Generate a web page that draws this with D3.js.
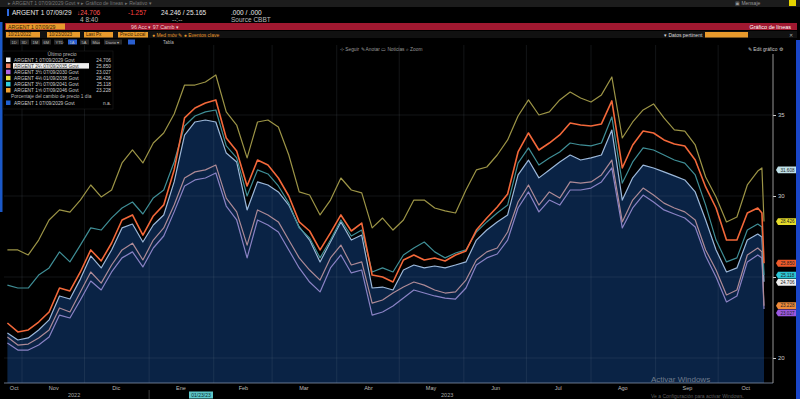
<!DOCTYPE html>
<html><head><meta charset="utf-8">
<script src="https://cdn.jsdelivr.net/npm/d3@7"></script>
<style>html,body{margin:0;padding:0;background:#000;overflow:hidden}
text{font-family:'Liberation Sans',Arial,sans-serif}</style>
</head><body>
<svg id="c" width="800" height="399"></svg>
<script>
// ---------- DATA ----------
const startDate = "2022-10-25";   // first observation, then every 5 days
const stepDays = 5;
const extraDates = ["2023-10-22", "2023-10-23"];

const seriesNames = [
  "ARGENT 1 07/09/2029 Govt", "ARGENT 2¼ 07/09/2035 Govt", "ARGENT 3½ 07/09/2030 Govt",
  "ARGENT 4⅛ 01/09/2038 Govt", "ARGENT 3½ 07/09/2041 Govt", "ARGENT 1⅝ 07/09/2046 Govt"
];
const lastPrices = ["24.706", "25.850", "23.027", "28.426", "25.118", "23.228"];

const yellow2038 = [26.67,26.67,26.36,27.28,28.52,29.14,29.01,29.75,30.68,29.94,
  30.37,32.04,32.84,32.04,33.27,33.89,35.06,36.85,36.85,37.04,
  37.47,35.19,34.38,32.35,34.57,34.69,34.26,32.53,30.25,30.06,
  28.83,29.75,31.11,30.37,30.19,28.03,28.64,27.90,28.52,29.75,
  29.75,29.26,29.08,28.95,30.37,31.61,31.79,32.53,33.46,34.94,
  35.93,35.00,35.19,35.93,36.42,36.05,35.80,36.24,37.35,33.58,
  34.57,35.31,35.68,34.82,34.08,34.01,33.15,31.17,29.94,28.40,
  28.70,30.68,31.54,31.73,28.424];
const salmon2035 = [22.16,21.61,21.73,22.22,22.84,24.32,24.14,25.31,26.67,25.99,
  27.10,28.52,28.83,27.59,28.77,29.45,31.61,34.82,35.43,35.74,
  35.93,33.58,32.78,30.62,32.22,31.91,31.11,30.00,28.40,27.84,
  26.67,27.72,28.83,27.84,28.33,25.12,25.00,24.69,26.05,26.36,
  26.05,26.17,25.99,26.36,26.61,27.90,28.64,29.32,30.12,32.72,
  33.89,32.84,33.27,33.77,34.51,34.38,34.32,34.45,35.87,31.73,
  33.15,34.01,33.89,33.46,33.21,33.09,32.22,30.56,29.26,27.28,
  27.28,28.95,29.26,28.95,25.85];
const cyan2041 = [24.50,24.32,24.32,25.12,25.56,26.55,25.93,26.97,28.03,27.90,
  28.65,29.26,29.63,28.89,29.88,30.37,32.10,34.32,34.94,35.19,
  35.31,33.09,32.35,30.00,31.61,31.36,30.62,29.56,28.03,27.41,
  26.18,27.28,28.52,27.53,27.90,25.31,25.56,25.31,26.36,26.79,
  27.16,26.55,26.18,26.48,26.67,27.78,28.40,28.95,29.44,32.03,
  32.97,31.91,32.35,32.72,33.27,33.15,33.09,33.27,34.88,30.80,
  32.10,32.97,32.84,32.53,32.22,32.03,31.30,29.44,27.28,25.93,
  26.18,27.90,28.27,28.09,25.118];
const white2029 = [21.54,21.11,21.24,21.73,22.35,23.83,23.64,24.87,26.30,25.56,
  26.67,28.03,28.27,27.16,28.21,28.83,30.87,33.76,34.57,34.69,
  34.57,32.65,32.10,29.14,30.87,30.68,30.25,29.44,28.09,27.28,
  25.93,27.16,28.40,27.28,27.59,24.32,24.38,24.20,25.43,25.74,
  25.56,25.68,25.56,25.74,25.93,27.28,27.90,28.40,28.83,31.30,
  32.22,31.12,31.61,32.10,32.53,32.22,32.35,32.53,34.07,29.75,
  31.12,31.91,31.73,31.49,31.24,30.99,30.25,28.52,26.67,25.31,
  25.56,27.28,27.65,27.47,24.706];
const orange2046 = [21.30,20.80,20.86,21.24,21.73,23.09,22.84,24.08,25.31,24.62,
  25.74,26.67,27.09,26.05,27.28,28.03,29.44,31.11,31.49,31.61,
  31.91,29.87,29.02,26.97,29.14,28.83,28.40,27.28,26.18,25.43,
  24.81,26.18,26.97,25.74,25.93,23.39,23.58,24.01,24.38,24.69,
  24.50,24.20,24.01,24.08,24.81,26.05,26.55,26.79,27.78,29.63,
  30.68,29.44,30.25,29.87,30.87,30.80,30.87,31.30,32.22,28.40,
  29.75,30.49,30.06,29.56,29.26,29.02,28.52,26.67,25.43,23.89,
  24.20,26.36,26.79,26.55,23.228];
const purple2030 = [20.92,20.49,20.49,20.80,21.30,22.65,22.47,23.58,24.75,24.20,
  25.31,26.18,26.55,25.62,26.79,27.53,29.02,30.62,30.99,31.11,
  31.42,29.38,28.52,26.18,28.52,28.21,27.78,26.67,25.56,24.69,
  24.08,25.56,26.36,25.25,25.43,22.65,22.84,23.21,23.70,24.20,
  24.01,23.83,23.70,23.64,24.32,25.74,26.18,26.42,27.28,29.26,
  30.25,29.02,29.75,29.44,30.37,30.37,30.49,30.87,31.73,28.03,
  29.26,30.06,29.63,29.14,28.89,28.64,28.09,26.30,25.00,23.46,
  23.83,25.93,26.36,26.18,23.027];

const monthLabels = ["Oct","Nov","Dic","Ene","Feb","Mar","Abr","May","Jun","Jul","Ago","Sep","Oct"];
const monthLabelDates = ["2022-10-28","2022-11-16","2022-12-16","2023-01-16","2023-02-15","2023-03-16",
  "2023-04-16","2023-05-16","2023-06-16","2023-07-16","2023-08-16","2023-09-16","2023-10-14"];
const gridDates = ["2022-11-01","2022-12-01","2023-01-01","2023-02-01","2023-03-01","2023-04-01",
  "2023-05-01","2023-06-01","2023-07-01","2023-08-01","2023-09-01","2023-10-01"];
const yearLabels = ["2022","2023"];
const yearLabelDates = ["2022-11-26","2023-05-24"];
const yTicks = [20,25,30,35];
const markerValue = 31.61, markerText = "31.608";

// ---------- SETUP ----------
const parse = d3.timeParse("%Y-%m-%d");
const d0 = parse(startDate);
const dates = d3.range(yellow2038.length - extraDates.length).map(i => d3.timeDay.offset(d0, i*stepDays))
  .concat(extraDates.map(parse));

const svg = d3.select("#c");
const W = 800, H = 399;
const plot = {left: 4, right: 770, top: 45, bottom: 383};

const x = d3.scaleTime().domain([parse("2022-10-25"), parse("2023-10-23")]).range([7.4, 764]);
const y = d3.scaleLinear().domain([20, 35]).range([358, 115]);

svg.append("rect").attr("width", W).attr("height", H).attr("fill", "#000");

// ---------- HEADER (terminal chrome) ----------
const hdr = svg.append("g");
hdr.append("rect").attr("x",0).attr("y",0).attr("width",W).attr("height",7).attr("fill","#1c1c1c");
hdr.append("text").attr("x",8).attr("y",5).attr("fill","#777").attr("font-size",5)
  .text("▸  ARGENT 1 07/09/2029 Govt  ▾   ▸   Gráfico de líneas  ▸  Relativo ▾");
hdr.append("text").attr("x",735).attr("y",5).attr("fill","#999").attr("font-size",5).text("▣ Mensaje");
hdr.append("rect").attr("x",789).attr("y",0).attr("width",7).attr("height",6).attr("fill","#e5d400");

hdr.append("rect").attr("x",7).attr("y",9).attr("width",2).attr("height",7).attr("fill","#2f6be0");
const t1 = [
  {x:12, y:15, t:"ARGENT 1 07/09/29", c:"#e8e8e8"},
  {x:77, y:15, t:"↓24.706", c:"#ff5555"},
  {x:128, y:15, t:"-1.257", c:"#ff4040"},
  {x:161, y:15, t:"24.246 / 25.165", c:"#e8e8e8"},
  {x:231, y:15, t:".000 / .000", c:"#e8e8e8"},
  {x:80, y:21.5, t:"4  8:40", c:"#bbb"},
  {x:172, y:21.5, t:"--:--", c:"#bbb"},
  {x:231, y:21.5, t:"Source CBBT", c:"#bbb"}
];
hdr.selectAll("text.t1").data(t1).join("text").attr("class","t1")
  .attr("x",d=>d.x).attr("y",d=>d.y).attr("fill",d=>d.c).attr("font-size",6.5).text(d=>d.t);

hdr.append("rect").attr("x",5).attr("y",23).attr("width",792).attr("height",7).attr("fill","#a01830");
hdr.append("rect").attr("x",6).attr("y",23.5).attr("width",59).attr("height",6).attr("fill","#e89a2c");
hdr.append("text").attr("x",8).attr("y",28.6).attr("fill","#3a1a00").attr("font-size",5.2).text("ARGENT 1 07/09/29");
hdr.append("text").attr("x",131).attr("y",28.8).attr("fill","#f0d0d0").attr("font-size",5.3).text("96 Acc ▾    97 Camb ▾");
hdr.append("text").attr("x",791).attr("y",28.8).attr("text-anchor","end").attr("fill","#fff").attr("font-size",5.5).text("Gráfico de líneas");

hdr.append("rect").attr("x",5).attr("y",31).attr("width",792).attr("height",7).attr("fill","#111");
const boxes = [
  {x:6, w:34, t:"10/21/2022"}, {x:47, w:33, t:"10/23/2023"},
  {x:84, w:29, t:"Last Px"}, {x:118, w:30, t:"Precio Local"}
];
hdr.selectAll("rect.ob").data(boxes).join("rect").attr("class","ob")
  .attr("x",d=>d.x).attr("y",32).attr("width",d=>d.w).attr("height",5.5).attr("fill","#e89a2c");
hdr.selectAll("text.ob").data(boxes).join("text").attr("class","ob")
  .attr("x",d=>d.x+2).attr("y",36.4).attr("fill","#3a1a00").attr("font-size",4.6).text(d=>d.t);
hdr.append("text").attr("x",152).attr("y",36.6).attr("fill","#e89a2c").attr("font-size",5)
  .text("●  Med móv ✎    ●  Eventos clave");
hdr.append("text").attr("x",664).attr("y",36.6).attr("fill","#ddd").attr("font-size",5).text("▾ Datos pertinent");
hdr.append("rect").attr("x",705).attr("y",32).attr("width",43).attr("height",5.5).attr("fill","#e89a2c");
hdr.append("text").attr("x",789).attr("y",36.6).attr("fill","#aaa").attr("font-size",5).text("✕");

const tabs = ["1D","3D","1M","6M","YTD","1A","5A","Máx","Diario ▾"];
const tabX = [10,20,31,42,54,68,80,91,104];
hdr.selectAll("rect.tab").data(tabs).join("rect").attr("class","tab")
  .attr("x",(d,i)=>tabX[i]).attr("y",39.5).attr("width",(d,i)=>d.length>4?18:9).attr("height",5)
  .attr("fill",(d,i)=>d==="1A"?"#2a5fd0":"#262626");
hdr.selectAll("text.tab").data(tabs).join("text").attr("class","tab")
  .attr("x",(d,i)=>tabX[i]+1.5).attr("y",43.6).attr("fill","#bbb").attr("font-size",4).text(d=>d);
hdr.append("rect").attr("x",128).attr("y",39.5).attr("width",7).attr("height",5).attr("fill","#2a5fd0");
hdr.append("text").attr("x",163).attr("y",43.6).attr("fill","#bbb").attr("font-size",4.5).text("Tabla");

// ---------- PLOT ----------
const g = svg.append("g");
g.append("rect").attr("x",plot.left).attr("y",plot.top).attr("width",plot.right-plot.left)
  .attr("height",plot.bottom-plot.top).attr("fill","#000");

const pts = arr => arr.map((v,i)=>({d:dates[i], v}));

// mountain area
g.append("path").datum(pts(white2029))
  .attr("d", d3.area().x(d=>x(d.d)).y0(plot.bottom).y1(d=>y(d.v)))
  .attr("fill","#0a2345");

// grid
g.selectAll("line.vg").data(gridDates.map(parse)).join("line").attr("class","vg")
  .attr("x1",d=>x(d)).attr("x2",d=>x(d)).attr("y1",plot.top).attr("y2",plot.bottom)
  .attr("stroke","rgba(140,150,170,0.2)").attr("stroke-width",0.7);
g.selectAll("line.hg").data(yTicks).join("line").attr("class","hg")
  .attr("x1",plot.left).attr("x2",773).attr("y1",d=>y(d)).attr("y2",d=>y(d))
  .attr("stroke","rgba(140,150,170,0.2)").attr("stroke-width",0.7);

const line = d3.line().x(d=>x(d.d)).y(d=>y(d.v));
const lineDefs = [
  {data: purple2030, c:"#8a82c4", w:1.2},
  {data: orange2046, c:"#ad8a96", w:1.2},
  {data: white2029, c:"#9cb8da", w:1.2},
  {data: cyan2041, c:"#3f8e96", w:1.2},
  {data: yellow2038, c:"#9c9446", w:1.2},
  {data: salmon2035, c:"#f3683a", w:1.6}
];
g.selectAll("path.ln").data(lineDefs).join("path").attr("class","ln")
  .attr("d",d=>line(pts(d.data))).attr("fill","none")
  .attr("stroke",d=>d.c).attr("stroke-width",d=>d.w).attr("stroke-linejoin","round");

// bottom edge of plot
g.append("line").attr("x1",plot.left).attr("x2",773).attr("y1",plot.bottom).attr("y2",plot.bottom)
  .attr("stroke","#8090a8").attr("stroke-width",0.8);

// chart toolbar text
g.append("text").attr("x",340).attr("y",51).attr("fill","#999").attr("font-size",4.8)
  .text("⊹ Seguir      ✎ Anotar      ▭ Noticias      ⌕ Zoom");
g.append("text").attr("x",748).attr("y",51).attr("fill","#ccc").attr("font-size",4.8).text("✎ Edit gráfico  ⚙");

// ---------- RIGHT VALUE TAGS (positions) ----------
const tagDefs = [
  {v: markerValue, t: markerText, c:"#bfe0e8"},
  {v: yellow2038[yellow2038.length-1], t: lastPrices[3], c:"#e6dc2a"},
  {v: salmon2035[salmon2035.length-1], t: lastPrices[1], c:"#ee5a2a"},
  {v: cyan2041[cyan2041.length-1], t: lastPrices[4], c:"#2cc6d6"},
  {v: white2029[white2029.length-1], t: lastPrices[0], c:"#eeeeee"},
  {v: orange2046[orange2046.length-1], t: lastPrices[5], c:"#ee8a3a"},
  {v: purple2030[purple2030.length-1], t: lastPrices[2], c:"#9a58e0"}
];
let prev = -1e9;
tagDefs.forEach(d => { d.py = Math.max(y(d.v), prev + 7.2); prev = d.py; });

// ---------- AXES ----------
// tick labels hidden behind a value tag are not shown (as in the terminal)
const covered = v => tagDefs.some(t => Math.abs(t.py - y(v)) < 6);
const yAxis = d3.axisRight(y).tickValues(yTicks).tickSize(3).tickFormat(v => covered(v) ? "" : d3.format("d")(v));
const ya = svg.append("g").attr("transform","translate(773,0)").call(yAxis);
ya.select(".domain").remove();
ya.selectAll("line").attr("stroke","#ccc");
ya.selectAll("text").attr("fill","#ccc").attr("font-size",6).attr("x",5);
svg.append("line").attr("x1",773).attr("x2",773).attr("y1",54).attr("y2",plot.bottom)
  .attr("stroke","#bbb").attr("stroke-width",0.8);

const xAxis = d3.axisBottom(x).tickValues(monthLabelDates.map(parse)).tickSize(0)
  .tickFormat((d,i)=>monthLabels[i]);
const xa = svg.append("g").attr("transform",`translate(0,${plot.bottom})`).call(xAxis);
xa.select(".domain").remove();
xa.selectAll("text").attr("fill","#bbb").attr("font-size",5.5).attr("dy","0.8em");

svg.selectAll("text.yr").data(yearLabels).join("text").attr("class","yr")
  .attr("x",(d,i)=>x(parse(yearLabelDates[i]))).attr("y",397).attr("text-anchor","middle")
  .attr("fill","#aaa").attr("font-size",5.5).text(d=>d);
svg.append("line").attr("x1",x(parse("2023-01-01"))).attr("x2",x(parse("2023-01-01")))
  .attr("y1",390).attr("y2",399).attr("stroke","#555").attr("stroke-width",0.7);
svg.append("rect").attr("x",189).attr("y",391.5).attr("width",24).attr("height",7).attr("fill","#5cc6c8");
svg.append("text").attr("x",201).attr("y",397).attr("text-anchor","middle").attr("fill","#0a2a30")
  .attr("font-size",5).text("01/23/23");

// ---------- RIGHT VALUE TAGS (draw) ----------
const tags = svg.selectAll("g.tag").data(tagDefs).join("g").attr("class","tag")
  .attr("transform",d=>`translate(776,${d.py})`);
tags.append("path").attr("d","M0,0 L2,-3.4 L21,-3.4 L21,3.4 L2,3.4 Z").attr("fill",d=>d.c);
tags.append("text").attr("x",11.5).attr("y",1.7).attr("text-anchor","middle").attr("fill","#222")
  .attr("font-size",4.6).text(d=>d.t);

// side strips
svg.append("rect").attr("x",796).attr("y",40).attr("width",4).attr("height",359).attr("fill","#1a46c8");
svg.append("rect").attr("x",0).attr("y",22).attr("width",2.5).attr("height",190).attr("fill","#1a58c8");

// ---------- LEGEND ----------
const lg = svg.append("g");
lg.append("rect").attr("x",3).attr("y",51).attr("width",110).attr("height",58).attr("fill","rgba(0,0,0,0.9)")
  .attr("stroke","#222").attr("stroke-width",0.5);
lg.append("text").attr("x",62).attr("y",56).attr("text-anchor","middle").attr("fill","#bbb").attr("font-size",5).text("Último precio");
const legColors = ["#f4f4f4","#f08060","#b064e0","#e8e040","#30d0e0","#f0a030"];
const legRows = seriesNames.map((n,i)=>({n, v:lastPrices[i], c:legColors[i], yy:61.5 + i*6.1}));
legRows.forEach((r,i)=>{
  lg.append("rect").attr("x",6).attr("y",r.yy-4).attr("width",4.5).attr("height",4.5).attr("fill",r.c);
  if (i===1) lg.append("rect").attr("x",13).attr("y",r.yy-4.5).attr("width",76).attr("height",5.5).attr("fill","#eee");
  lg.append("text").attr("x",14).attr("y",r.yy).attr("fill",i===1?"#333":"#ccc").attr("font-size",4.8).text(r.n);
  lg.append("text").attr("x",111).attr("y",r.yy).attr("text-anchor","end").attr("fill","#ccc").attr("font-size",4.8).text(r.v);
});
lg.append("text").attr("x",11).attr("y",98.4).attr("fill","#bbb").attr("font-size",4.8).text("Porcentaje del cambio de precio 1 día");
lg.append("rect").attr("x",6).attr("y",100.5).attr("width",4.5).attr("height",4.5).attr("fill","#2060d0");
lg.append("text").attr("x",14).attr("y",104.6).attr("fill","#ccc").attr("font-size",4.8).text(seriesNames[0]);
lg.append("text").attr("x",111).attr("y",104.6).attr("text-anchor","end").attr("fill","#ccc").attr("font-size",4.8).text("n.a.");

// ---------- WATERMARK ----------
svg.append("text").attr("x",651).attr("y",382).attr("fill","rgba(210,210,210,0.5)").attr("font-size",8).text("Activar Windows");
svg.append("text").attr("x",651).attr("y",397.5).attr("fill","rgba(210,210,210,0.45)").attr("font-size",5)
  .text("Ve a Configuración para activar Windows.");
</script>
</body></html>
